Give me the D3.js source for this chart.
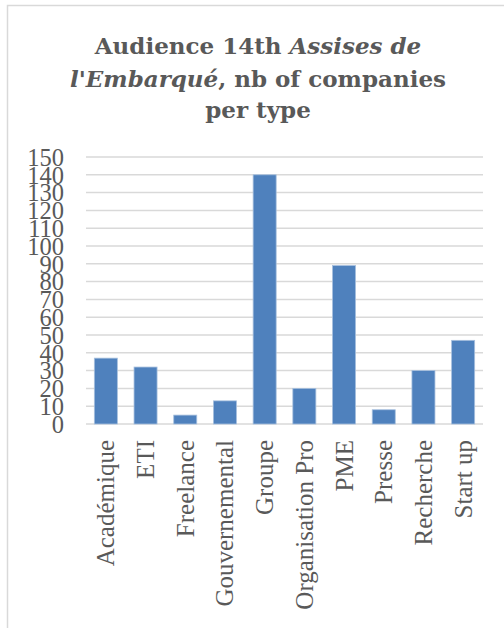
<!DOCTYPE html>
<html>
<head>
<meta charset="utf-8">
<script src="https://cdn.jsdelivr.net/npm/d3@7"></script>
<style>
  body { margin: 0; background: #fff; }
  svg { display: block; }
</style>
</head>
<body>
<script>
const categories = ["Académique", "ETI", "Freelance", "Gouvernemental", "Groupe",
  "Organisation Pro", "PME", "Presse", "Recherche", "Start up"];
const counts = [37, 32, 5, 13, 140, 20, 89, 8, 30, 47];
const yTicks = [0, 10, 20, 30, 40, 50, 60, 70, 80, 90, 100, 110, 120, 130, 140, 150];

const W = 504, H = 628;
const margin = { top: 157, right: 21, bottom: 204, left: 86 };
const width = W - margin.left - margin.right,
  height = H - margin.top - margin.bottom;

const svg = d3.select("body").append("svg")
  .attr("width", W)
  .attr("height", H);

// outer chart frame (only top and left edges visible)
svg.append("rect")
  .attr("x", 7.5).attr("y", 5.5)
  .attr("width", W + 20).attr("height", H + 20)
  .attr("fill", "#fff")
  .attr("stroke", "#d9d9d9")
  .attr("stroke-width", 1.5);

// title
const title = svg.append("text")
  .attr("text-anchor", "middle")
  .attr("font-family", "'DejaVu Serif', serif")
  .attr("font-weight", 700)
  .attr("font-size", 23)
  .attr("fill", "#595959");
const line1 = title.append("tspan").attr("x", 258).attr("y", 54);
line1.append("tspan").text("Audience 14th ");
line1.append("tspan").attr("font-style", "italic").text("Assises de");
const line2 = title.append("tspan").attr("x", 258).attr("y", 87);
line2.append("tspan").attr("font-style", "italic").text("l'Embarqué");
line2.append("tspan").text(", nb of companies");
title.append("tspan").attr("x", 258).attr("y", 118).text("per type");

const g = svg.append("g")
  .attr("transform", `translate(${margin.left},${margin.top})`);

const x = d3.scaleBand()
  .domain(categories)
  .range([0, width])
  .paddingInner(0.42)
  .paddingOuter(0.21);

const y = d3.scaleLinear()
  .domain([0, 150])
  .range([height, 0]);

// gridlines
g.append("g")
  .selectAll("line")
  .data(yTicks)
  .enter()
  .append("line")
  .attr("x1", 0)
  .attr("x2", width)
  .attr("y1", (d) => y(d))
  .attr("y2", (d) => y(d))
  .attr("stroke", "#d9d9d9")
  .attr("stroke-width", 1.5);

// bars
g.append("g")
  .selectAll("rect")
  .data(categories)
  .enter()
  .append("rect")
  .attr("x", (d) => x(d))
  .attr("y", (d, i) => y(counts[i]))
  .attr("width", x.bandwidth())
  .attr("height", (d, i) => height - y(counts[i]))
  .attr("fill", "#4f81bd")
  .attr("stroke", "#a7c0de")
  .attr("stroke-width", 0.8);

// y axis
const yAxis = d3.axisLeft(y).tickValues(yTicks).tickSize(0).tickPadding(22);
g.append("g")
  .call(yAxis)
  .call((s) => s.select(".domain").remove())
  .selectAll("text")
  .attr("font-family", "'Liberation Serif', serif")
  .attr("font-size", 24.5)
  .attr("fill", "#595959")
  .attr("dy", "0.34em");

// x axis
const xAxis = d3.axisBottom(x).tickSize(0).tickPadding(0);
g.append("g")
  .attr("transform", `translate(0,${height})`)
  .call(xAxis)
  .call((s) => s.select(".domain").remove())
  .selectAll("text")
  .attr("font-family", "'Liberation Serif', serif")
  .attr("font-size", 25)
  .attr("fill", "#595959")
  .attr("text-anchor", "end")
  .attr("transform", "rotate(-90)")
  .attr("x", -16)
  .attr("y", 0)
  .attr("dy", "0.34em");
</script>
</body>
</html>
